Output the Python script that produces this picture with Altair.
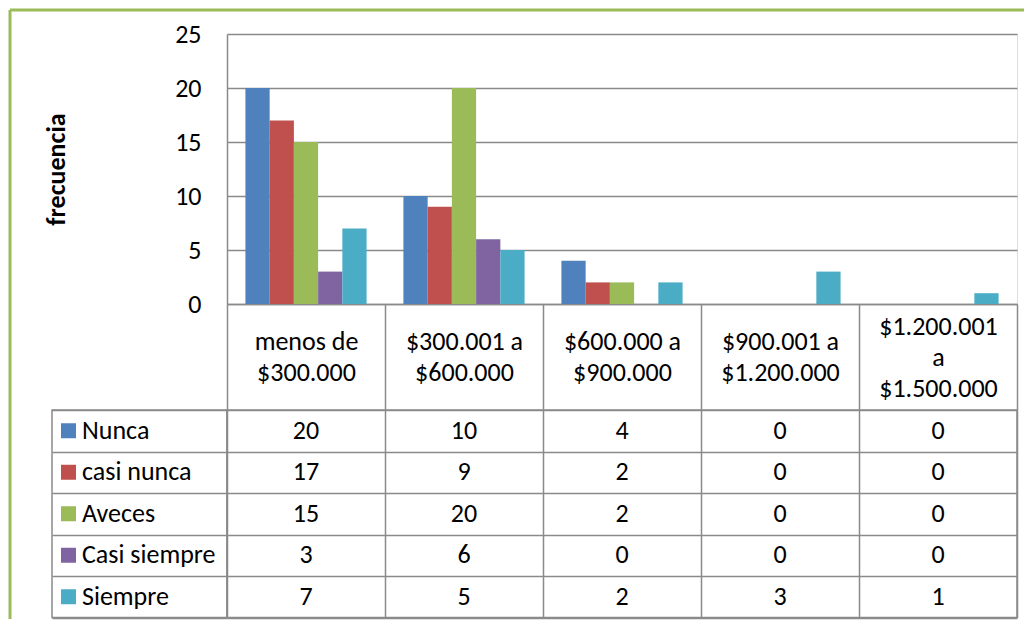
import altair as alt
import pandas as pd

categories = ["menos de\n$300.000", "$300.001 a\n$600.000", "$600.000 a\n$900.000",
              "$900.001 a\n$1.200.000", "$1.200.001\na\n$1.500.000"]
series = ["Nunca", "casi nunca", "Aveces", "Casi siempre", "Siempre"]
nunca = [20, 10, 4, 0, 0]
casi_nunca = [17, 9, 2, 0, 0]
aveces = [15, 20, 2, 0, 0]
casi_siempre = [3, 6, 0, 0, 0]
siempre = [7, 5, 2, 3, 1]
colors = ["#4F81BD", "#C0504D", "#9BBB59", "#8064A2", "#4BACC6"]
y_ticks = [0, 5, 10, 15, 20, 25]

FONT = "Carlito, Calibri, Lato, sans-serif"
FS = 26
GRAY = "#8a8a8a"
GREEN = "#9BBB59"
LH = 31

values = [nunca, casi_nunca, aveces, casi_siempre, siempre]
rows = []
for s, vals in zip(series, values):
    for c, v in zip(categories, vals):
        rows.append({"category": c, "series": s, "value": v})
df = pd.DataFrame(rows)

color = alt.Color("series:N", sort=series,
                  scale=alt.Scale(domain=series, range=colors), legend=None)

band0 = alt.Scale(paddingInner=0, paddingOuter=0)

label_pad = {"condition": {"test": "length(split(datum.value, '\\n')) > 2",
                           "value": -53 - LH},
             "value": -53 - LH / 2}

bars = alt.Chart(df).mark_bar().encode(
    x=alt.X("category:N", sort=categories, scale=band0,
            axis=alt.Axis(title=None, labelExpr="split(datum.label, '\\n')", labelAngle=0,
                          labelFont=FONT, labelFontSize=FS, labelColor="black",
                          labelBaseline="middle", labelLineHeight=LH, labelPadding=label_pad,
                          labelOverlap=False, labelLimit=0,
                          tickBand="extent", tickSize=106, tickColor=GRAY, tickWidth=1.5,
                          domainColor=GRAY, domainWidth=1.5, grid=False)),
    xOffset=alt.XOffset("series:N", sort=series,
                        scale=alt.Scale(paddingInner=0, paddingOuter=0.76)),
    y=alt.Y("value:Q", scale=alt.Scale(domain=[0, 25], nice=False),
            axis=alt.Axis(values=y_ticks, title="frecuencia", titleFont=FONT,
                          titleFontSize=FS, titleFontWeight="bold", titleColor="black",
                          titleX=-171, titleY=135, titleBaseline="middle", titleAlign="center",
                          grid=True, gridColor=GRAY, gridWidth=1.5, ticks=False,
                          labelFont=FONT, labelFontSize=FS, labelColor="black",
                          labelPadding=26, domainColor=GRAY, domainWidth=1.5)),
    color=color,
).properties(width=790, height=270)

grid_axis = alt.Axis(title=None, labels=False, ticks=False, domain=False, grid=True,
                     tickBand="extent", gridColor=GRAY, gridWidth=1.5)
view_box = alt.ViewBackground(stroke=GRAY, strokeWidth=1.5)
no_box = alt.ViewBackground(strokeWidth=0, strokeOpacity=0)

cells = alt.Chart(df).mark_text(font=FONT, fontSize=FS, color="black").encode(
    x=alt.X("category:N", sort=categories, scale=band0, axis=grid_axis),
    y=alt.Y("series:N", sort=series, scale=band0, axis=grid_axis),
    text="value:Q",
).properties(width=790, height=207.5, view=view_box)

leg_df = pd.DataFrame({"series": series})
leg_base = alt.Chart(leg_df).encode(
    y=alt.Y("series:N", sort=series, scale=band0, axis=grid_axis)
)
leg_sq = leg_base.mark_square(size=225, opacity=1).encode(x=alt.value(16.5), color=color)
leg_tx = leg_base.mark_text(align="left", baseline="middle", font=FONT, fontSize=FS,
                            color="black").encode(x=alt.value(30), text="series:N")
legend_col = alt.layer(leg_sq, leg_tx).properties(width=175, height=207.5, view=view_box)

frame_df = pd.DataFrame({"a": [0]})
frame_left = alt.Chart(frame_df).mark_rule(color=GREEN, strokeWidth=3).encode(
    x=alt.value(-42), y=alt.value(-24), y2=alt.value(585))
frame_top = alt.Chart(frame_df).mark_rule(color=GREEN, strokeWidth=3).encode(
    x=alt.value(-42), x2=alt.value(972), y=alt.value(-24))
frame = alt.layer(frame_left, frame_top).properties(width=175, height=270, view=no_box)

chart = alt.concat(
    frame, bars, legend_col, cells,
    columns=2, spacing={"row": 106, "column": 0}, bounds="flush",
    padding={"left": 0, "top": 0, "right": 0, "bottom": 0},
).configure_view(strokeWidth=0, strokeOpacity=0).configure(font=FONT)

chart.save("out.html", embed_options={"renderer": "svg", "actions": False})
